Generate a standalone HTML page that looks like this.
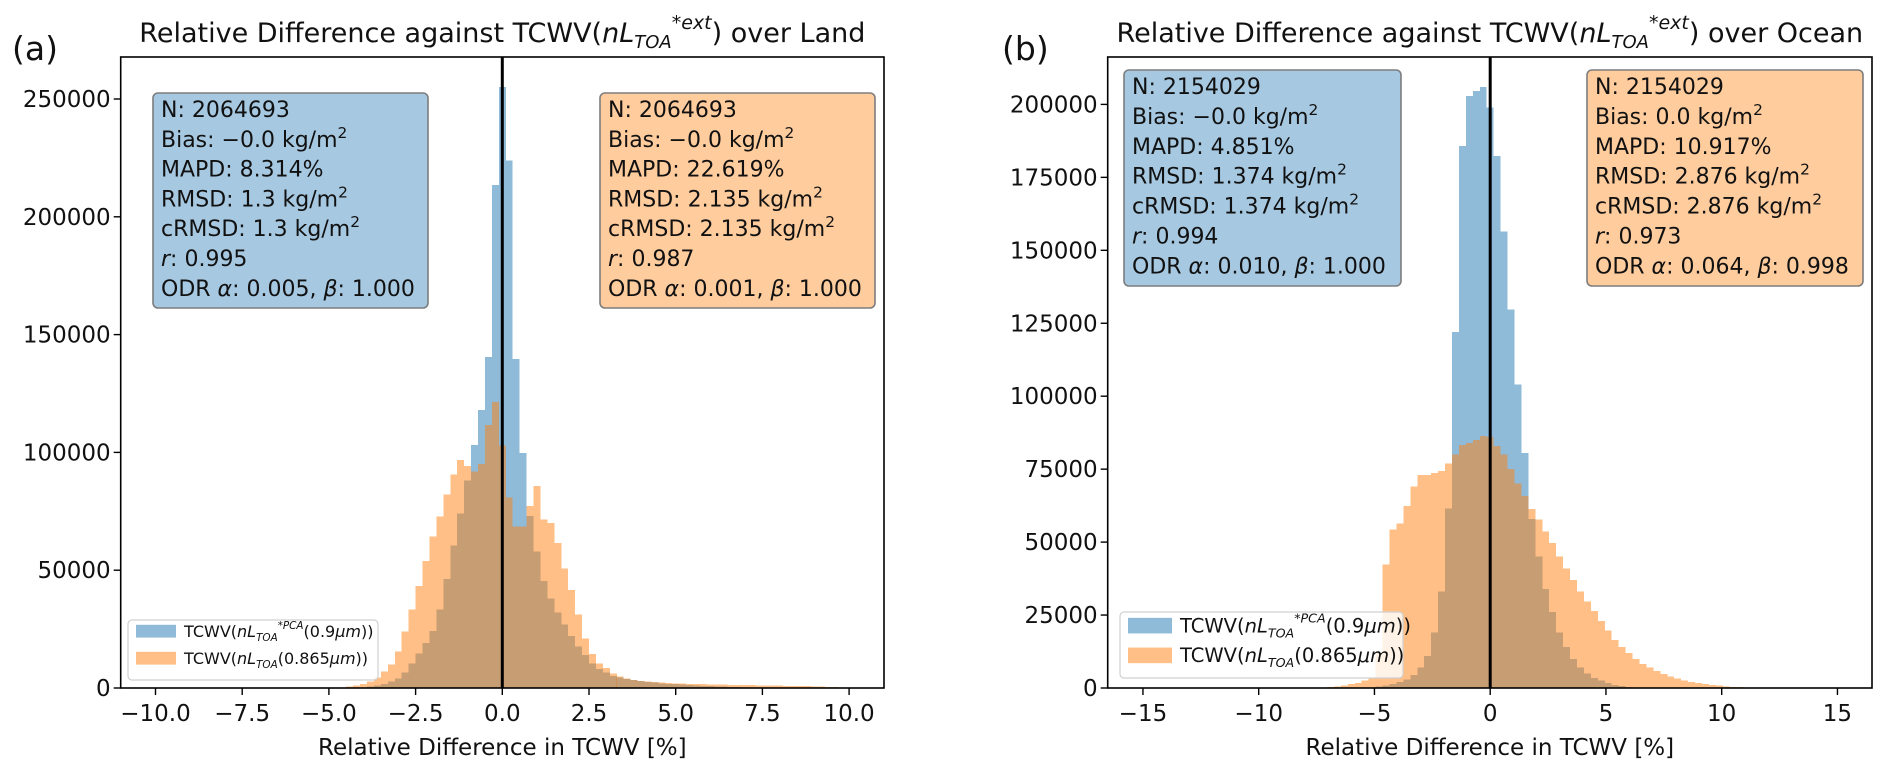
<!DOCTYPE html>
<html><head><meta charset="utf-8"><style>
html,body{margin:0;padding:0;background:#fff;}
svg{display:block;font-family:"DejaVu Sans","Liberation Sans",sans-serif;}
</style></head><body>
<svg id="fig" width="1892" height="777" viewBox="0 0 1892 777" xmlns="http://www.w3.org/2000/svg"></svg>
<script>
// ---------- DATA ----------
const landBinStart = -4.6;   // first bin centre (orange)
const landBlueStart = -4.0;  // first bin centre (blue)
const landBinWidth = 0.2;
const landOrange = [0.3,0.6,1.0,1.7,2.7,4.5,7,10,15.4,23.9,33.4,43.4,53.9,64.2,72.7,82.2,90.6,96.8,94.2,91.8,95,111.6,121.5,102.9,80.8,68.5,68.5,77.3,85.7,71.6,70,61.6,50.8,41.6,31.1,21,14.4,10.5,8.4,6.2,4.8,4.0,3.4,3.0,2.7,2.5,2.3,2.1,2.0,1.9,1.8,1.7,1.6,1.5,1.45,1.4,1.35,1.3,1.25,1.2,1.15,1.1,1.05,1.0,0.95,0.9,0.85,0.8,0.7,0.6,0.5,0.4,0.3,0.2];
const landBlue = [0.3,0.6,1.1,1.8,2.7,4.1,6.5,10.5,14.7,19,24.3,33.4,46.3,60.4,74,88,103.2,118,140.4,213.5,255,223.8,139.6,99.7,73,58,45.5,38,32,27,22,17.6,14,10.5,8,6.5,5.2,4.4,3.8,3.3,2.9,2.6,2.3,2.0,1.8,1.6,1.4,1.2,1.0,0.9,0.8,0.7,0.6,0.5,0.4,0.3,0.2];
const landXTicks = [-10,-7.5,-5,-2.5,0,2.5,5,7.5,10];
const landXTickLabels = ["\u221210.0","\u22127.5","\u22125.0","\u22122.5","0.0","2.5","5.0","7.5","10.0"];
const landYTicks = [0,50000,100000,150000,200000,250000];

const oceanOrangeStart = -7.2;
const oceanBlueStart = -4.8;
const oceanBinWidth = 0.3;
const oceanOrange = [0.2,0.4,0.6,0.9,1.3,1.8,2.5,3.5,12,42.4,54.4,56.3,62.4,69,73,73,73.7,74.4,77,80,83.3,84,85,86.4,86,83,80,75,70,65.8,61.4,57.7,53.7,49.7,45,41,37,33,29.7,26.4,23,19.7,16.4,14,12,10,8.3,7,5.8,4.8,3.9,3.2,2.6,2.1,1.7,1.3,1.0,0.8,0.6,0.4,0.3,0.2];
const oceanBlue = [0.5,0.8,1.3,2,3,4.5,7,11,19,33,61.6,122,185.7,202.8,204.6,206,199,182.4,156.4,129.7,104,80.6,58,45,34,26,19,14,10,7,5,3.5,2.5,1.7,1.1,0.7,0.4];
const oceanXTicks = [-15,-10,-5,0,5,10,15];
const oceanXTickLabels = ["\u221215","\u221210","\u22125","0","5","10","15"];
const oceanYTicks = [0,25000,50000,75000,100000,125000,150000,175000,200000];

const landStats = [["N: 2064693","Bias: \u22120.0 kg/m","MAPD: 8.314%","RMSD: 1.3 kg/m","cRMSD: 1.3 kg/m","r: 0.995","ODR \u03b1: 0.005, \u03b2: 1.000"],
                   ["N: 2064693","Bias: \u22120.0 kg/m","MAPD: 22.619%","RMSD: 2.135 kg/m","cRMSD: 2.135 kg/m","r: 0.987","ODR \u03b1: 0.001, \u03b2: 1.000"]];
const oceanStats = [["N: 2154029","Bias: \u22120.0 kg/m","MAPD: 4.851%","RMSD: 1.374 kg/m","cRMSD: 1.374 kg/m","r: 0.994","ODR \u03b1: 0.010, \u03b2: 1.000"],
                    ["N: 2154029","Bias: 0.0 kg/m","MAPD: 10.917%","RMSD: 2.876 kg/m","cRMSD: 2.876 kg/m","r: 0.973","ODR \u03b1: 0.064, \u03b2: 0.998"]];

// ---------- DRAW ----------
const NS="http://www.w3.org/2000/svg";
const svg=document.getElementById('fig');
function el(tag,attrs,parent){const e=document.createElementNS(NS,tag);for(const k in attrs)e.setAttribute(k,attrs[k]);(parent||svg).appendChild(e);return e;}

function statLine(g,x,y,s,size){
  const t=el('text',{x:x,y:y,'font-size':size,fill:'#111'},g);
  
  
  if(s.startsWith('r: ')){const a=el('tspan',{'font-style':'italic'},t);a.textContent='r';const b=el('tspan',{},t);b.textContent=s.slice(1);return;}
  if(s.startsWith('ODR')){
    const parts=[['ODR ',''],['\u03b1','i'],[s.slice(5,s.indexOf('\u03b2')),''],['\u03b2','i'],[s.slice(s.indexOf('\u03b2')+1),'']];
    parts.forEach(p=>{const ts=el('tspan',p[1]?{'font-style':'italic'}:{},t);ts.textContent=p[0];});return;}
  if(s.endsWith('kg/m')){const a=el('tspan',{},t);a.textContent=s;const b=el('tspan',{'baseline-shift':'super','font-size':size*0.7},t);b.textContent='2';return;}
  t.textContent=s;
}

function panel(o){
  const sx=v=>o.zeroPx+v*o.pxu;
  const sy=v=>o.yb-v*o.pyk;
  const g=el('g',{});
  
  
  [[o.blue,o.blueStart,'#1f77b4','blue'],[o.orange,o.orangeStart,'#ff7f0e','orange']].forEach(([arr,start,col,nm])=>{
    const sg=el('g',{fill:col,'fill-opacity':0.5,'shape-rendering':'crispEdges'},g);
    
    
    arr.forEach((v,i)=>{
      const c=start+i*o.bw;
      const xa=sx(c-o.bw/2), xb=sx(c+o.bw/2);
      const r=el('rect',{x:xa.toFixed(2),y:sy(v).toFixed(2),width:(xb-xa).toFixed(2),height:(o.yb-sy(v)).toFixed(2)},sg);
      
      
    });
  });
  const zl=el('line',{x1:sx(0),x2:sx(0),y1:o.yt,y2:o.yb,stroke:'#000','stroke-width':3},g);
  
  
  const fr=el('rect',{x:o.x0,y:o.yt,width:o.x1-o.x0,height:o.yb-o.yt,fill:'none',stroke:'#000','stroke-width':1.6},g);
  
  
  o.xticks.forEach((v,i)=>{
    el('line',{x1:sx(v),x2:sx(v),y1:o.yb,y2:o.yb+7,stroke:'#000','stroke-width':1.4},g);
    const t=el('text',{x:sx(v),y:o.yb+33,'font-size':23,'text-anchor':'middle',fill:'#111'},g);
    
    
    t.textContent=o.xlabels[i];
  });
  o.yticks.forEach(v=>{
    const y=sy(v/1000);
    el('line',{x1:o.x0-7,x2:o.x0,y1:y,y2:y,stroke:'#000','stroke-width':1.4},g);
    const t=el('text',{x:o.x0-10,y:y+8,'font-size':23,'text-anchor':'end',fill:'#111'},g);
    
    
    t.textContent=String(v);
  });
  const xl=el('text',{x:(o.x0+o.x1)/2,y:o.yb+67,'font-size':23,'text-anchor':'middle',fill:'#111'},g);
  
  
  xl.textContent='Relative Difference in TCWV [%]';
  const tt=el('text',{x:(o.x0+o.x1)/2,y:o.yt-15,'font-size':27,'text-anchor':'middle',fill:'#111'},g);
  
  
  [['Relative Difference against TCWV(',{}],['nL',{'font-style':'italic'}],['TOA',{'font-style':'italic','font-size':18,dy:6}],['*ext',{'font-style':'italic','font-size':19,dy:-19}],[') over '+o.region,{dy:13}]].forEach(p=>{const s=el('tspan',p[1],tt);s.textContent=p[0];});
  const pl=el('text',{x:o.labelX,y:o.yt+3,'font-size':33,fill:'#111'},g);
  
  
  pl.textContent=o.label;
  o.boxes.forEach((b,bi)=>{
    const bg=el('g',{},g);
    
    
    el('rect',{x:b.x,y:b.y,width:b.w,height:b.h,rx:5,fill:bi?'#ffcc9e':'#a6c8e1',stroke:'#7d7d7d','stroke-width':1.6},bg);
    b.lines.forEach((s,i)=>statLine(bg,b.x+8,b.y+24+i*b.ls,s,22));
  });
  const L=o.legend;
  const lg=el('g',{},g);
  
  
  el('rect',{x:L.x,y:L.y,width:L.w,height:L.h,rx:4,fill:'#fff','fill-opacity':0.8,stroke:'#d0d0d0','stroke-width':1.2},lg);
  [['#1f77b4','*PCA','(0.9','\u03bcm','))'],['#ff7f0e','','(0.865','\u03bcm','))']].forEach((e,i)=>{
    const y=L.y+L.fs*1.05+i*L.h*0.45;
    const pr=el('rect',{x:L.x+8,y:y-L.fs*0.75,width:L.sw,height:L.fs*0.8,fill:e[0],'fill-opacity':0.5},lg);
    
    
    const t=el('text',{x:L.x+16+L.sw,y:y,'font-size':L.fs,fill:'#111'},lg);
    
    
    const parts=[['TCWV(',{}],['nL',{'font-style':'italic'}],['TOA',{'font-style':'italic','font-size':L.fs*0.65,dy:L.fs*0.25}]];
    if(e[1])parts.push([e[1],{'font-style':'italic','font-size':L.fs*0.65,dy:-L.fs*0.75}]);
    parts.push([e[2],{dy:e[1]?L.fs*0.5:-L.fs*0.25}],[e[3],{'font-style':'italic'}],[e[4],{}]);
    parts.forEach(p=>{const s=el('tspan',p[1],t);s.textContent=p[0];});
  });
}

panel({name:'land-panel',region:'Land',label:'(a)',labelX:12,x0:120.7,x1:884,yt:57,yb:688,zeroPx:502.3,pxu:34.68,pyk:2.356,
  orange:landOrange,orangeStart:landBinStart,blue:landBlue,blueStart:landBlueStart,bw:landBinWidth,
  xticks:landXTicks,xlabels:landXTickLabels,yticks:landYTicks,
  boxes:[{x:153,y:93,w:275,h:215,ls:29.8,lines:landStats[0]},{x:600,y:93,w:275,h:215,ls:29.8,lines:landStats[1]}],
  legend:{x:128,y:620,w:250,h:60,fs:16,sw:40}});
panel({name:'ocean-panel',region:'Ocean',label:'(b)',labelX:1002,x0:1107.7,x1:1872,yt:57,yb:688,zeroPx:1490.2,pxu:23.15,pyk:2.918,
  orange:oceanOrange,orangeStart:oceanOrangeStart,blue:oceanBlue,blueStart:oceanBlueStart,bw:oceanBinWidth,
  xticks:oceanXTicks,xlabels:oceanXTickLabels,yticks:oceanYTicks,
  boxes:[{x:1124,y:70,w:277,h:216,ls:29.9,lines:oceanStats[0]},{x:1587,y:70,w:276,h:216,ls:29.9,lines:oceanStats[1]}],
  legend:{x:1120,y:612,w:283,h:66,fs:19.5,sw:44}});
</script>
</body></html>
